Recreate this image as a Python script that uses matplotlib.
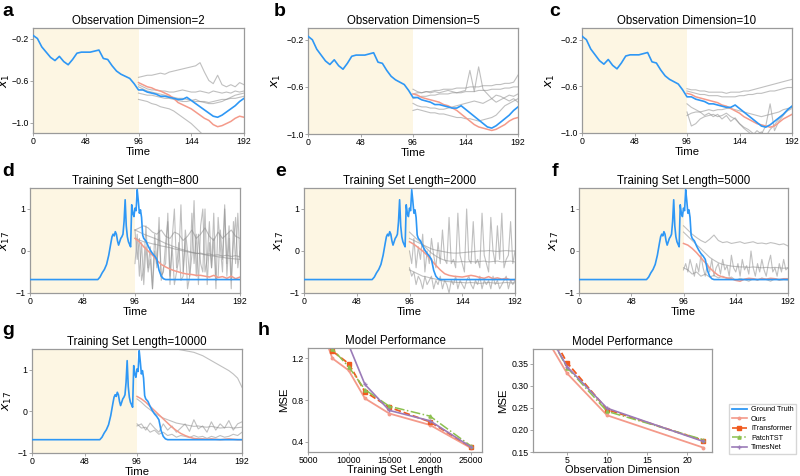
import numpy as np
import matplotlib
matplotlib.use('Agg')
import matplotlib.pyplot as plt
from matplotlib.lines import Line2D

plt.rcParams['font.family'] = ['Liberation Sans', 'DejaVu Sans']
plt.rcParams['mathtext.fontset'] = 'dejavusans'

# ---------------- data ----------------
time_ticks = [0, 48, 96, 144, 192]
t_x1 = np.arange(0, 193, 4)
x1_true = [-0.17, -0.20, -0.28, -0.33, -0.38, -0.41, -0.37, -0.42, -0.45, -0.40,
           -0.34, -0.33, -0.33, -0.33, -0.32, -0.31, -0.39, -0.40, -0.46, -0.51,
           -0.54, -0.56, -0.58, -0.63, -0.69, -0.69, -0.71, -0.72, -0.73, -0.75,
           -0.75, -0.76, -0.77, -0.78, -0.78, -0.76, -0.79, -0.82, -0.85, -0.88,
           -0.91, -0.94, -0.95, -0.93, -0.90, -0.87, -0.84, -0.80, -0.77]

t_x17 = [0, 62, 64, 66, 68, 70, 72, 73, 74, 75, 76, 77, 78, 79, 80, 81, 82, 83, 84, 85,
         86, 87, 88, 89, 90, 91, 92, 93, 94, 95, 96, 97, 98, 99, 100, 101, 102, 103, 104,
         106, 108, 110, 112, 114, 116, 118, 120, 122, 124, 192]
x17_true = [-0.68, -0.68, -0.62, -0.52, -0.44, -0.32, -0.10, 0.05, 0.20, 0.34, 0.40, 0.36,
            0.46, 0.40, 0.24, 0.14, 0.22, 0.30, 0.34, 0.40, 0.70, 1.22, 0.60, 0.34, 0.22,
            0.16, 0.10, 1.10, 0.90, 0.82, 1.02, 0.96, 1.46, 1.20, 0.90, 0.98, 0.80, 0.38,
            0.30, 0.24, 0.12, 0.02, -0.06, -0.12, -0.20, -0.46, -0.60, -0.66, -0.68, -0.68]

# predictions, horizon 96..192 (evenly spaced samples)
a_ours = [-0.62, -0.64, -0.66, -0.67, -0.69, -0.70, -0.72, -0.74, -0.77, -0.81, -0.83, -0.85,
          -0.87, -0.90, -0.93, -0.96, -0.98, -1.02, -1.04, -1.03, -1.01, -0.99, -0.96, -0.94, -0.95]
a_others = [
    [-0.57, -0.56, -0.55, -0.55, -0.54, -0.53, -0.54, -0.52, -0.51, -0.50, -0.49, -0.48, -0.47,
     -0.46, -0.43, -0.52, -0.60, -0.63, -0.55, -0.64, -0.66, -0.64, -0.66, -0.62, -0.64],
    [-0.64, -0.66, -0.68, -0.69, -0.69, -0.70, -0.70, -0.71, -0.71, -0.70, -0.69, -0.70, -0.71,
     -0.71, -0.70, -0.71, -0.72, -0.70, -0.71, -0.72, -0.71, -0.72, -0.70, -0.71, -0.70],
    [-0.72, -0.73, -0.74, -0.74, -0.75, -0.76, -0.77, -0.77, -0.78, -0.79, -0.80, -0.80, -0.79,
     -0.78, -0.80, -0.80, -0.81, -0.80, -0.79, -0.78, -0.78, -0.77, -0.77, -0.76, -0.75],
    [-0.78, -0.79, -0.80, -0.82, -0.83, -0.85, -0.86, -0.87, -0.89, -0.92, -0.95, -0.98, -1.01,
     -1.05, -1.09, -1.13, -1.17, -1.20, -1.23, -1.26, -1.29, -1.31, -1.34, -1.37, -1.40],
    [-0.66, -0.68, -0.70, -0.71, -0.72, -0.73, -0.74, -0.75, -0.76, -0.77, -0.77, -0.78, -0.79,
     -0.80, -0.80, -0.81, -0.82, -0.82, -0.81, -0.80, -0.78, -0.76, -0.74, -0.73, -0.72],
]
b_ours = [-0.66, -0.67, -0.69, -0.70, -0.71, -0.72, -0.73, -0.75, -0.76, -0.78, -0.80, -0.83,
          -0.86, -0.89, -0.92, -0.94, -0.95, -0.96, -0.97, -0.96, -0.94, -0.92, -0.89, -0.87, -0.86]
b_others = [
    [-0.62, -0.64, -0.65, -0.64, -0.65, -0.64, -0.65, -0.64, -0.63, -0.64, -0.65, -0.64, -0.63,
     -0.46, -0.64, -0.43, -0.62, -0.66, -0.70, -0.67, -0.68, -0.70, -0.72, -0.70, -0.73],
    [-0.66, -0.65, -0.65, -0.64, -0.64, -0.63, -0.63, -0.62, -0.62, -0.62, -0.61, -0.61, -0.61,
     -0.60, -0.60, -0.60, -0.59, -0.59, -0.59, -0.58, -0.58, -0.57, -0.57, -0.56, -0.50],
    [-0.70, -0.69, -0.68, -0.68, -0.67, -0.67, -0.66, -0.66, -0.66, -0.65, -0.65, -0.65, -0.64,
     -0.64, -0.64, -0.63, -0.63, -0.63, -0.62, -0.62, -0.62, -0.61, -0.61, -0.60, -0.60],
    [-0.80, -0.79, -0.80, -0.81, -0.82, -0.82, -0.83, -0.83, -0.84, -0.85, -0.86, -0.86, -0.87,
     -0.87, -0.88, -0.89, -0.88, -0.87, -0.86, -0.84, -0.80, -0.76, -0.74, -0.72, -0.70],
    [-0.74, -0.76, -0.77, -0.77, -0.78, -0.78, -0.79, -0.79, -0.78, -0.77, -0.76, -0.75, -0.74,
     -0.73, -0.72, -0.73, -0.74, -0.72, -0.70, -0.73, -0.71, -0.69, -0.67, -0.68, -0.66],
]
c_ours = [-0.66, -0.67, -0.69, -0.70, -0.71, -0.72, -0.73, -0.74, -0.76, -0.77, -0.79, -0.81,
          -0.83, -0.86, -0.88, -0.90, -0.92, -0.93, -0.94, -0.95, -0.94, -0.91, -0.88, -0.86, -0.84]
c_others = [
    [-0.62, -0.63, -0.63, -0.64, -0.64, -0.65, -0.65, -0.65, -0.65, -0.66, -0.65, -0.65, -0.65,
     -0.64, -0.64, -0.63, -0.62, -0.61, -0.60, -0.59, -0.58, -0.57, -0.56, -0.55, -0.54],
    [-0.64, -0.65, -0.66, -0.67, -0.67, -0.68, -0.68, -0.68, -0.69, -0.69, -0.69, -0.69, -0.68,
     -0.68, -0.67, -0.67, -0.66, -0.66, -0.65, -0.64, -0.64, -0.63, -0.62, -0.61, -0.61],
    [-0.82, -0.94, -0.92, -0.88, -0.86, -0.85, -0.84, -0.86, -0.85, -0.83, -0.86, -0.88, -0.92,
     -0.96, -0.99, -1.02, -0.98, -1.01, -0.94, -0.75, -0.98, -0.90, -0.85, -0.80, -0.77],
    [-0.85, -0.83, -0.82, -0.82, -0.81, -0.80, -0.81, -0.80, -0.80, -0.79, -0.79, -0.80, -0.81,
     -0.82, -0.83, -0.84, -0.85, -0.86, -0.85, -0.84, -0.83, -0.82, -0.80, -0.79, -0.78],
    [-0.75, -0.78, -0.80, -0.82, -0.85, -0.83, -0.86, -0.84, -0.88, -0.85, -0.90, -0.87, -0.92,
     -0.95, -0.97, -1.00, -1.02, -0.99, -1.03, -0.97, -0.93, -0.88, -0.84, -0.81, -0.79],
]
d_ours = [0.30, 0.22, 0.10, 0.00, -0.10, -0.22, -0.32, -0.38, -0.43, -0.47, -0.50, -0.53, -0.55,
          -0.56, -0.58, -0.58, -0.60, -0.62, -0.58, -0.63, -0.61, -0.65, -0.60, -0.66, -0.62]
d_others = [
    [-0.3, 0.4, -0.6, 0.2, -0.8, 0.1, -0.5, -0.2, -0.9, 0.0, -0.4, 0.5, -0.7, -0.4, -0.3, 0.9,
     -0.6, 0.1, -0.8, -0.5, -0.2, 1.1, -0.5, 0.3, -0.9, -0.6, -0.1, 1.2, -0.6, 0.4, -0.3, -0.5,
     1.0, -0.8, 0.2, -0.4, 0.9, -0.7, -0.6, 0.5, -0.2, 1.1, -0.6, 0.3, -0.9, 0.7, -0.3, 0.9, -0.2],
    [0.5, -0.2, 0.3, -0.7, -0.4, 0.6, -0.4, 0.1, -0.9, 0.4, -0.3, 0.8, -0.6, -0.5, 0.2, 0.7,
     -0.8, 0.3, 1.0, -0.4, 0.2, -0.7, -0.6, 0.5, 0.0, -0.6, 0.9, -0.3, 0.4, -0.8, 0.6, 1.0, -0.5,
     -0.2, 0.7, -0.4, 0.3, -0.9, 0.8, 0.1, -0.5, 1.0, -0.3, 0.6, -0.7, 0.2, 0.8, -0.4, 0.0],
    [0.50, 0.45, 0.40, 0.36, 0.32, 0.28, 0.23, 0.18, 0.14, 0.10, 0.06, 0.03, 0.00, -0.03, -0.05,
     -0.07, -0.09, -0.11, -0.12, -0.14, -0.15, -0.17, -0.18, -0.19, -0.20],
    [0.30, 0.26, 0.22, 0.20, 0.17, 0.15, 0.12, 0.10, 0.08, 0.05, 0.03, 0.00, -0.02, -0.04, -0.06,
     -0.05, -0.08, -0.07, -0.10, -0.09, -0.12, -0.10, -0.13, -0.11, -0.14],
    [0.50, 0.55, 0.60, 0.55, 0.45, 0.40, 0.50, 0.35, 0.30, 0.45, 0.40, 0.25, 0.35, 0.50, 0.30,
     0.40, 0.55, 0.35, 0.25, 0.45, 0.30, 0.40, 0.50, 0.35, 0.30],
]
e_ours = [0.22, 0.16, 0.08, 0.00, -0.10, -0.22, -0.34, -0.45, -0.54, -0.58, -0.60, -0.61, -0.62,
          -0.60, -0.58, -0.60, -0.63, -0.65, -0.61, -0.66, -0.64, -0.67, -0.65, -0.69, -0.68]
e_others = [
    [0.0, -0.3, 0.3, -0.4, 0.1, -0.2, 0.4, -0.5, 0.0, -0.3, 0.3, -0.1, -0.4, 0.2, -0.3, 0.5, -0.2,
     -0.3, 0.8, -0.3, -0.2, -0.4, 0.9, -0.1, -0.3, -0.5, 1.0, -0.2, -0.3, 0.7, -0.3, -0.2, -0.4,
     0.9, -0.1, -0.3, -0.5, 0.8, 0.0, -0.3, 0.6, -0.2, 0.9, -0.4, -0.2, -0.1, 0.7, -0.3, 0.0],
    [-0.4, -0.6, -0.5, -0.8, -0.6, -0.7, -0.9, -0.6, -0.8, -0.7, -0.6, -0.9, -0.7, -0.8, -0.6,
     -0.9, -0.7, -0.8, -1.0, -0.7, -0.8, -0.6, -0.9, -0.7, -0.8, -0.9, -0.7, -0.6, -0.8, -0.9,
     -0.7, -0.8, -0.6, -0.9, -0.7, -0.8, -0.7, -0.9, -0.6, -0.8, -0.7, -0.9, -0.8, -0.7, -0.6,
     -0.9, -0.7, -0.8, -0.7],
    [0.45, 0.35, 0.25, 0.15, 0.05, -0.05, -0.12, -0.18, -0.22, -0.24, -0.25, -0.26, -0.25, -0.26,
     -0.25, -0.26, -0.25, -0.24, -0.26, -0.25, -0.24, -0.26, -0.25, -0.24, -0.26],
    [0.30, 0.25, 0.20, 0.15, 0.10, 0.05, 0.02, 0.00, -0.02, -0.04, -0.05, -0.05, -0.04, -0.03,
     -0.02, -0.01, 0.00, 0.00, 0.01, 0.00, -0.01, 0.00, 0.01, 0.00, 0.00],
    [-0.45, -0.50, -0.55, -0.60, -0.62, -0.65, -0.67, -0.70, -0.72, -0.73, -0.74, -0.75, -0.75,
     -0.76, -0.75, -0.76, -0.77, -0.76, -0.75, -0.76, -0.77, -0.76, -0.75, -0.76, -0.76],
]
f_ours = [0.18, 0.14, 0.06, -0.04, -0.16, -0.28, -0.40, -0.50, -0.58, -0.62, -0.64, -0.66, -0.70,
          -0.72, -0.67, -0.65, -0.66, -0.68, -0.66, -0.67, -0.65, -0.66, -0.68, -0.66, -0.66]
f_others = [
    [0.60, 0.50, 0.40, 0.32, 0.25, 0.20, 0.28, 0.38, 0.25, 0.20, 0.22, 0.18, 0.20, 0.22, 0.18,
     0.20, 0.22, 0.18, 0.19, 0.17, 0.20, 0.18, 0.15, 0.17, 0.12],
    [0.45, 0.35, 0.25, 0.15, 0.05, -0.05, -0.15, -0.22, -0.28, -0.32, -0.34, -0.36, -0.37, -0.38,
     -0.38, -0.39, -0.38, -0.39, -0.40, -0.39, -0.40, -0.39, -0.40, -0.41, -0.40],
    [-0.45, -0.3, -0.5, -0.2, -0.4, -0.6, -0.3, -0.5, -0.1, -0.4, -0.6, -0.3, -0.5, -0.2, -0.6,
     -0.4, -0.3, -0.55, -0.2, -0.45, -0.35, -0.6, -0.1, -0.4, -0.5, -0.3, -0.6, -0.2, -0.45,
     -0.35, -0.55, 0.0, -0.4, -0.6, -0.3, -0.5, -0.2, -0.45, -0.6, -0.3, -0.1, -0.5, -0.4, -0.6,
     -0.3, -0.5, -0.2, -0.45, -0.4],
    [-0.40, -0.45, -0.55, -0.50, -0.60, -0.55, -0.62, -0.58, -0.64, -0.60, -0.66, -0.62, -0.70,
     -0.65, -0.68, -0.72, -0.66, -0.70, -0.64, -0.68, -0.72, -0.66, -0.70, -0.68, -0.69],
]
g_ours = [0.36, 0.30, 0.22, 0.12, 0.02, -0.08, -0.18, -0.28, -0.38, -0.46, -0.53, -0.58, -0.62,
          -0.65, -0.66, -0.66, -0.67, -0.66, -0.67, -0.68, -0.67, -0.66, -0.67, -0.68, -0.68]
g_others = [
    [1.65, 1.65, 1.64, 1.63, 1.62, 1.60, 1.58, 1.55, 1.52, 1.50, 1.48, 1.46, 1.44, 1.42, 1.38,
     1.34, 1.28, 1.22, 1.16, 1.10, 1.04, 0.98, 0.90, 0.80, 0.58],
    [0.30, 0.22, 0.12, 0.04, -0.04, -0.10, -0.16, -0.20, -0.24, -0.28, -0.30, -0.32, -0.34, -0.36,
     -0.35, -0.37, -0.38, -0.36, -0.38, -0.40, -0.39, -0.38, -0.40, -0.39, -0.38],
    [-0.35, -0.30, -0.45, -0.28, -0.40, -0.50, -0.30, -0.45, -0.35, -0.50, -0.40, -0.30, -0.48,
     -0.20, -0.42, -0.35, -0.50, -0.25, -0.45, -0.30, -0.40, -0.22, -0.45, -0.30, -0.25],
    [-0.30, -0.40, -0.38, -0.50, -0.45, -0.55, -0.50, -0.58, -0.55, -0.62, -0.58, -0.60, -0.63,
     -0.58, -0.62, -0.60, -0.65, -0.60, -0.63, -0.58, -0.62, -0.60, -0.55, -0.58, -0.50],
]

# model performance
train_len = [5000, 8000, 10000, 12000, 15000, 20000, 25000]
mse_len_ours = [1.85, 1.20, 1.085, 0.815, 0.67, 0.56, 0.34]
mse_len_itrans = [1.65, 1.27, 1.15, 0.88, 0.73, 0.59, 0.35]
mse_len_patch = [1.62, 1.29, 1.12, 0.90, 0.74, 0.645, 0.36]
mse_len_times = [2.40, 2.00, 1.33, 0.95, 0.70, 0.60, 0.35]

obs_dim = [2, 5, 10, 22]
mse_dim_ours = [0.42, 0.328, 0.233, 0.160]
mse_dim_itrans = [0.45, 0.352, 0.246, 0.176]
mse_dim_patch = [0.44, 0.341, 0.242, 0.178]
mse_dim_times = [0.44, 0.343, 0.249, 0.174]

# ---------------- style ----------------
BLUE = '#2E97F5'
SALMON = '#F49A8A'
GRAY = '#8C8C8C'
SHADE = '#FDF6E3'
C_ITR = '#F05A1E'
C_PAT = '#8CC04F'
C_TIM = '#9B7BB8'
SPINE = '#9A9A9A'

W, H = 800, 476
fig = plt.figure(figsize=(8, 4.76), dpi=100)


def add_ax(l, t, r, b):
    return fig.add_axes([l / W, 1 - b / H, (r - l) / W, (b - t) / H])


def style(ax, tsize):
    for s in ax.spines.values():
        s.set_color(SPINE)
        s.set_linewidth(0.9)
    ax.tick_params(labelsize=tsize, length=2, width=0.6, color=SPINE, pad=1.2)


def ts_panel(ax, t_true, y_true, ours, others, ylim, yticks, ylabel, title, ylx):
    ax.axvspan(0, 96, color=SHADE, lw=0, zorder=0)
    for g in others:
        ax.plot(np.linspace(96, 192, len(g)), g, color=GRAY, lw=0.8, alpha=0.55, zorder=1)
    ax.plot(np.linspace(96, 192, len(ours)), ours, color=SALMON, lw=1.1, zorder=2)
    ax.plot(t_true, y_true, color=BLUE, lw=1.2, zorder=3)
    ax.set_xlim(0, 192)
    ax.set_ylim(*ylim)
    ax.set_xticks(time_ticks)
    ax.set_yticks(yticks)
    ax.set_title(title, fontsize=8.3, pad=3)
    ax.set_xlabel('Time', fontsize=8.2, labelpad=0.3)
    ax.set_ylabel(ylabel, fontsize=9)
    ax.yaxis.set_label_coords(ylx, 0.5)
    style(ax, 6.3)


axa = add_ax(33, 28, 244, 133)
ts_panel(axa, t_x1, x1_true, a_ours, a_others, (-1.1, -0.1), [-0.2, -0.6, -1.0], '$x_1$',
         'Observation Dimension=2', -0.1)
axb = add_ax(308, 28, 518, 134)
ts_panel(axb, t_x1, x1_true, b_ours, b_others, (-1.0, -0.1), [-0.2, -0.6, -1.0], '$x_1$',
         'Observation Dimension=5', -0.12)
axc = add_ax(582, 28, 792, 133)
ts_panel(axc, t_x1, x1_true, c_ours, c_others, (-1.0, -0.1), [-0.2, -0.6, -1.0], '$x_1$',
         'Observation Dimension=10', -0.12)

axd = add_ax(30, 188, 240, 293)
ts_panel(axd, t_x17, x17_true, d_ours, d_others, (-1, 1.5), [-1, 0, 1], '$x_{17}$',
         'Training Set Length=800', -0.085)
axe = add_ax(304, 188, 515, 293)
ts_panel(axe, t_x17, x17_true, e_ours, e_others, (-1, 1.5), [-1, 0, 1], '$x_{17}$',
         'Training Set Length=2000', -0.085)
axf = add_ax(579, 188, 788, 293)
ts_panel(axf, t_x17, x17_true, f_ours, f_others, (-1, 1.5), [-1, 0, 1], '$x_{17}$',
         'Training Set Length=5000', -0.085)
axg = add_ax(32, 349, 242, 453)
ts_panel(axg, t_x17, x17_true, g_ours, g_others, (-1, 1.5), [-1, 0, 1], '$x_{17}$',
         'Training Set Length=10000', -0.085)


# performance panels
def perf(ax, x, series, xlim, ylim, xticks, yticks, xlabel, yfmt, ylx):
    styles = [
        dict(color=SALMON, ls='-', marker='o', ms=1.8, lw=1.3),
        dict(color=C_ITR, ls='--', marker='s', ms=2.3, lw=1.3),
        dict(color=C_PAT, ls='-.', marker='^', ms=2.3, lw=1.1),
        dict(color=C_TIM, ls='-', marker='+', ms=2.5, lw=1.2),
    ]
    for y, st in zip(series, styles):
        ax.plot(x, y, **st)
    ax.set_xlim(*xlim)
    ax.set_ylim(*ylim)
    ax.set_xticks(xticks)
    ax.set_yticks(yticks)
    ax.set_yticklabels([yfmt % v for v in yticks])
    ax.set_title('Model Performance', fontsize=8.3, pad=3)
    ax.set_xlabel(xlabel, fontsize=7.9, labelpad=0)
    ax.set_ylabel('MSE', fontsize=8.2)
    ax.yaxis.set_label_coords(ylx, 0.5)
    style(ax, 6.3)


axh1 = add_ax(308, 348, 482, 452)
perf(axh1, train_len, [mse_len_ours, mse_len_itrans, mse_len_patch, mse_len_times],
     (5000, 26400), (0.3, 1.3), [5000, 10000, 15000, 20000, 25000], [0.4, 0.8, 1.2],
     'Training Set Length', '%.1f', -0.11)
axh2 = add_ax(533, 349, 712, 452)
perf(axh2, obs_dim, [mse_dim_ours, mse_dim_itrans, mse_dim_patch, mse_dim_times],
     (0.75, 23.1), (0.15, 0.383), [5, 10, 15, 20], [0.15, 0.20, 0.25, 0.30, 0.35],
     'Observation Dimension', '%.2f', -0.14)

handles = [
    Line2D([], [], color=BLUE, lw=1.3),
    Line2D([], [], color=SALMON, lw=1.2, marker='o', ms=1.8),
    Line2D([], [], color=C_ITR, lw=1.2, ls='--', marker='s', ms=2.3),
    Line2D([], [], color=C_PAT, lw=1.1, ls='-.', marker='^', ms=2.3),
    Line2D([], [], color=C_TIM, lw=1.2, marker='+', ms=2.5),
]
labels = ['Ground Truth', 'Ours', 'iTransformer', 'PatchTST', 'TimesNet']
fig.legend(handles, labels, loc='lower left', bbox_to_anchor=(729 / W, 1 - 454 / H),
           fontsize=5.2, frameon=True, edgecolor='#cccccc', fancybox=False,
           handlelength=2.1, labelspacing=0.35, borderpad=0.35, handletextpad=0.6,
           borderaxespad=0)

# panel letters
for letter, (x, y) in zip('abcdefgh', [(2, 16), (274, 16), (549, 16), (2, 176), (275, 176),
                                        (552, 176), (2, 335), (258, 335)]):
    fig.text(x / W, 1 - y / H, letter, fontsize=14, fontweight='bold', ha='left',
             va='baseline')

fig.savefig('out.png', dpi=100)
